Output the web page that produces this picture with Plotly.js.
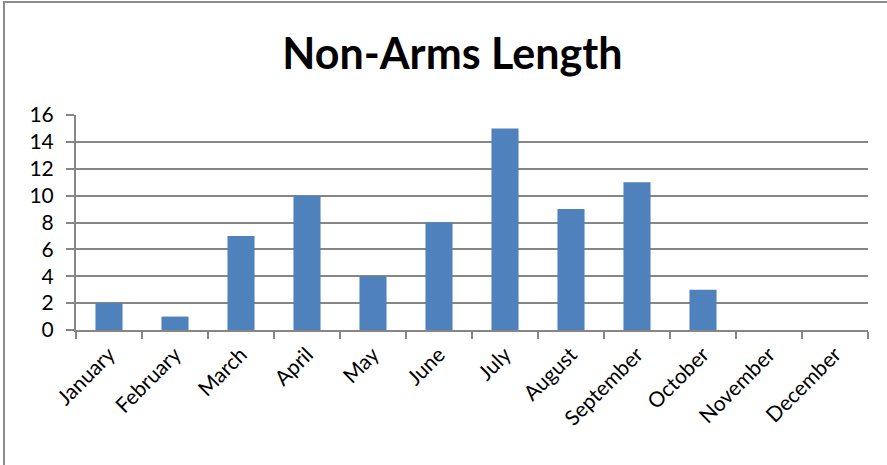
<!DOCTYPE html>
<html><head><meta charset="utf-8">
<script src="https://cdn.plot.ly/plotly-3.0.1.min.js"></script>
<style>
html,body{margin:0;padding:0;background:#fff;}
#chart{width:887px;height:465px;position:relative;}
#frame{position:absolute;left:3px;top:1px;width:884px;height:464px;border-top:2px solid #8c8c8c;border-left:2px solid #8c8c8c;box-sizing:border-box;pointer-events:none;}
</style>
</head><body>
<div id="chart"></div>
<div id="frame"></div>
<script>
const months = ["January","February","March","April","May","June","July","August","September","October","November","December"];
const counts = [2,1,7,10,4,8,15,9,11,3,0,0];
const yTicks = [0,2,4,6,8,10,12,14,16];
const chartTitle = "Non-Arms Length";

const font = "Lato, 'Open Sans', 'DejaVu Sans', sans-serif";
Plotly.newPlot('chart', [{
  type: 'bar', x: months, y: counts,
  marker: {color: '#4F81BD', line: {width: 0}},
  hoverinfo: 'skip'
}], {
  width: 887, height: 465,
  margin: {l: 76, r: 19, t: 115, b: 135},
  paper_bgcolor: '#fff', plot_bgcolor: '#fff',
  bargap: 0.59,
  showlegend: false,
  title: {text: '<b>' + chartTitle + '</b>', font: {family: font, size: 43, color: '#000'},
          x: 0.51, xanchor: 'center', y: 0.885, yanchor: 'middle'},
  xaxis: {type: 'category', tickson: 'boundaries', ticks: 'outside', ticklen: 7, tickcolor: '#868686', tickwidth: 2,
          showline: true, linecolor: '#868686', linewidth: 2, showgrid: false,
          tickangle: -45, tickfont: {family: font, size: 21, color: '#000'}, ticklabelstandoff: 2, automargin: false},
  yaxis: {range: [0, 16], tickvals: yTicks, ticks: 'outside', ticklen: 8, tickcolor: '#868686', tickwidth: 2,
          showline: true, linecolor: '#868686', linewidth: 2, showgrid: true, gridcolor: '#868686', gridwidth: 2,
          zeroline: false, tickfont: {family: font, size: 21, color: '#000'}, ticklabelstandoff: 8, automargin: false}
}, {staticPlot: true});
</script>
</body></html>
